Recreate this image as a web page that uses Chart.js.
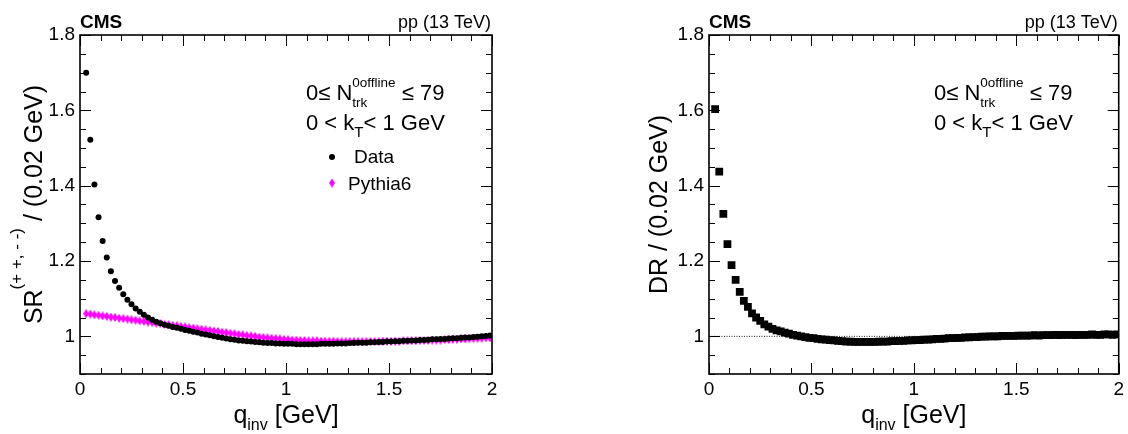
<!DOCTYPE html>
<html>
<head>
<meta charset="utf-8">
<script src="https://cdn.jsdelivr.net/npm/chart.js@4.4.1/dist/chart.umd.min.js"></script>
<style>
body { margin: 0; background: #fff; }
.pad { position: absolute; top: 0; width: 564px; height: 434px; }
</style>
</head>
<body>
<div class="pad" style="left:0"><canvas id="sr-chart" width="564" height="434"></canvas></div>
<div class="pad" style="left:564px"><canvas id="dr-chart" width="564" height="434"></canvas></div>
<script>
// bin centres, 0.02 GeV bins
var qinv = [
	0.03,0.05,0.07,0.09,0.11,0.13,0.15,0.17,0.19,0.21,
	0.23,0.25,0.27,0.29,0.31,0.33,0.35,0.37,0.39,0.41,
	0.43,0.45,0.47,0.49,0.51,0.53,0.55,0.57,0.59,0.61,
	0.63,0.65,0.67,0.69,0.71,0.73,0.75,0.77,0.79,0.81,
	0.83,0.85,0.87,0.89,0.91,0.93,0.95,0.97,0.99,1.01,
	1.03,1.05,1.07,1.09,1.11,1.13,1.15,1.17,1.19,1.21,
	1.23,1.25,1.27,1.29,1.31,1.33,1.35,1.37,1.39,1.41,
	1.43,1.45,1.47,1.49,1.51,1.53,1.55,1.57,1.59,1.61,
	1.63,1.65,1.67,1.69,1.71,1.73,1.75,1.77,1.79,1.81,
	1.83,1.85,1.87,1.89,1.91,1.93,1.95,1.97,1.99
];

var srData = [
	1.700,1.522,1.403,1.316,1.253,1.209,1.173,1.147,1.129,1.112,
	1.097,1.085,1.074,1.065,1.057,1.050,1.044,1.039,1.035,1.031,
	1.028,1.025,1.023,1.020,1.017,1.015,1.012,1.010,1.007,1.005,
	1.003,1.000,0.998,0.996,0.994,0.992,0.991,0.989,0.988,0.987,
	0.986,0.985,0.984,0.983,0.982,0.982,0.981,0.981,0.980,0.980,
	0.980,0.979,0.979,0.979,0.979,0.979,0.979,0.980,0.980,0.980,
	0.980,0.981,0.981,0.981,0.982,0.982,0.983,0.983,0.983,0.984,
	0.984,0.985,0.985,0.986,0.986,0.987,0.987,0.988,0.988,0.989,
	0.989,0.990,0.990,0.991,0.992,0.992,0.993,0.993,0.994,0.995,
	0.995,0.996,0.997,0.997,0.998,0.999,1.000,1.001,1.002
];

var srPythia = [
	1.060,1.059,1.057,1.056,1.054,1.053,1.051,1.050,1.048,1.047,
	1.046,1.044,1.043,1.041,1.040,1.038,1.037,1.035,1.034,1.032,
	1.031,1.029,1.028,1.026,1.025,1.023,1.022,1.020,1.019,1.017,
	1.016,1.014,1.013,1.011,1.010,1.008,1.007,1.005,1.004,1.002,
	1.001,1.000,0.998,0.997,0.996,0.995,0.994,0.993,0.992,0.991,
	0.990,0.990,0.989,0.989,0.988,0.988,0.988,0.987,0.987,0.987,
	0.987,0.986,0.986,0.986,0.986,0.986,0.986,0.986,0.986,0.986,
	0.986,0.986,0.987,0.987,0.987,0.987,0.987,0.988,0.988,0.988,
	0.988,0.989,0.989,0.989,0.990,0.990,0.990,0.991,0.991,0.992,
	0.992,0.993,0.993,0.994,0.994,0.995,0.995,0.996,0.996
];

var drData = [
	1.603,1.437,1.325,1.245,1.189,1.150,1.118,1.094,1.078,1.061,
	1.050,1.041,1.032,1.026,1.020,1.016,1.013,1.010,1.007,1.004,
	1.002,1.000,0.998,0.996,0.995,0.993,0.992,0.991,0.990,0.989,
	0.988,0.987,0.986,0.986,0.985,0.985,0.985,0.985,0.985,0.985,
	0.986,0.986,0.986,0.987,0.987,0.988,0.988,0.989,0.989,0.990,
	0.990,0.991,0.991,0.992,0.993,0.993,0.994,0.995,0.995,0.996,
	0.996,0.997,0.997,0.998,0.998,0.999,0.999,1.000,1.000,1.000,
	1.001,1.001,1.001,1.001,1.002,1.002,1.002,1.002,1.003,1.002,
	1.003,1.003,1.003,1.004,1.003,1.004,1.004,1.004,1.003,1.004,
	1.004,1.004,1.005,1.004,1.004,1.005,1.005,1.004,1.005
];

var xTicks = [0, 0.5, 1, 1.5, 2];
var yTicks = [1, 1.2, 1.4, 1.6, 1.8];

var FONT = '"Liberation Sans", Arial, Helvetica, sans-serif';

function points(ys){
	return qinv.map(function(q, i){ return {x: q, y: ys[i]}; });
}

// thin magenta diamond like the ROOT marker
var diamond = document.createElement('canvas');
diamond.width = 6; diamond.height = 9;
(function(){
	var c = diamond.getContext('2d');
	c.fillStyle = '#ff00ff';
	c.beginPath();
	c.moveTo(3, 0); c.lineTo(6, 4.5); c.lineTo(3, 9); c.lineTo(0, 4.5);
	c.closePath(); c.fill();
})();

function partWidth(ctx, p){
	ctx.font = (p.bold ? 'bold ' : '') + p.size + 'px ' + FONT;
	if (p.sup !== undefined) {
		return Math.max(ctx.measureText(p.sup).width, ctx.measureText(p.sub).width);
	}
	return ctx.measureText(p.t).width;
}

function drawRich(ctx, x, y, parts, align){
	ctx.save();
	ctx.fillStyle = '#000';
	ctx.textAlign = 'left';
	ctx.textBaseline = 'alphabetic';
	var w = 0;
	parts.forEach(function(p){ w += partWidth(ctx, p); });
	if (align === 'center') x -= w / 2;
	else if (align === 'right') x -= w;
	parts.forEach(function(p){
		var pw = partWidth(ctx, p);
		if (p.sup !== undefined) {
			ctx.fillText(p.sup, x, y - p.up);
			ctx.fillText(p.sub, x, y + p.down);
		} else {
			ctx.fillText(p.t, x, y + (p.dy || 0));
		}
		x += pw;
	});
	ctx.restore();
}

function drawFrame(chart){
	var ctx = chart.ctx, a = chart.chartArea;
	var xs = chart.scales.x, ys = chart.scales.y;
	ctx.save();
	ctx.strokeStyle = '#000';
	ctx.lineWidth = 1;
	ctx.beginPath();
	for (var i = 0; i <= 20; i++) {
		var px = Math.round(xs.getPixelForValue(i / 10)) + 0.5;
		var len = (i % 5 === 0) ? 11 : 6;
		ctx.moveTo(px, a.bottom); ctx.lineTo(px, a.bottom - len);
		ctx.moveTo(px, a.top); ctx.lineTo(px, a.top + len);
	}
	for (var k = 0; k <= 18; k++) {
		var py = Math.round(ys.getPixelForValue(0.9 + k * 0.05)) + 0.5;
		var l2 = ((k - 2) % 4 === 0) ? 11 : 6;
		ctx.moveTo(a.left, py); ctx.lineTo(a.left + l2, py);
		ctx.moveTo(a.right, py); ctx.lineTo(a.right - l2, py);
	}
	ctx.stroke();
	ctx.lineWidth = 1.6;
	ctx.strokeRect(a.left, a.top, a.right - a.left, a.bottom - a.top);
	ctx.restore();
}

function header(ctx, a){
	drawRich(ctx, a.left, 28, [{t: 'CMS', size: 19, bold: true}], 'left');
	drawRich(ctx, a.right - 1, 28, [{t: 'pp (13 TeV)', size: 18}], 'right');
}

function cuts(ctx, x){
	drawRich(ctx, x, 100, [
		{t: '0\u2264 N', size: 22},
		{sup: '0offline', sub: 'trk', size: 13.5, up: 13, down: 6.5},
		{t: ' \u2264 79', size: 22}
	]);
	drawRich(ctx, x, 130, [
		{t: '0 < k', size: 22},
		{t: 'T', size: 15, dy: 7},
		{t: '< 1 GeV', size: 22}
	]);
}

function xTitle(ctx, a){
	drawRich(ctx, (a.left + a.right) / 2, 423, [
		{t: 'q', size: 25},
		{t: 'inv', size: 16, dy: 7},
		{t: ' [GeV]', size: 25}
	], 'center');
}

function yTitle(ctx, x, y, parts){
	ctx.save();
	ctx.translate(x, y);
	ctx.rotate(-Math.PI / 2);
	drawRich(ctx, 0, 0, parts, 'center');
	ctx.restore();
}

function scaleOptions(leftWidth){
	return {
		x: {
			type: 'linear', min: 0, max: 2,
			grid: {display: false, drawTicks: false},
			border: {display: false},
			afterBuildTicks: function(s){ s.ticks = xTicks.map(function(v){ return {value: v}; }); },
			afterFit: function(s){ s.height = 60; },
			ticks: {
				color: '#000', padding: 4, maxRotation: 0,
				font: {family: FONT, size: 19},
				callback: function(v){ return String(v); }
			}
		},
		y: {
			type: 'linear', min: 0.9, max: 1.8,
			grid: {display: false, drawTicks: false},
			border: {display: false},
			afterBuildTicks: function(s){ s.ticks = yTicks.map(function(v){ return {value: v}; }); },
			afterFit: function(s){ s.width = leftWidth; },
			ticks: {
				color: '#000', padding: 5,
				font: {family: FONT, size: 19},
				callback: function(v){ return v === 1 ? '1' : v.toFixed(1); }
			}
		}
	};
}

new Chart(document.getElementById('sr-chart'), {
	type: 'scatter',
	data: {
		datasets: [
			{
				label: 'Data',
				data: points(srData),
				pointStyle: 'circle', pointRadius: 3, pointBorderWidth: 0,
				backgroundColor: '#000', borderColor: '#000'
			},
			{
				label: 'Pythia6',
				data: points(srPythia),
				pointStyle: diamond, pointRadius: 4, pointBorderWidth: 0,
				backgroundColor: '#ff00ff', borderColor: '#ff00ff'
			}
		]
	},
	options: {
		responsive: false,
		animation: false,
		layout: {padding: {top: 35, right: 72, left: 0, bottom: 0}},
		plugins: {legend: {display: false}, tooltip: {enabled: false}},
		scales: scaleOptions(80)
	},
	plugins: [{
		id: 'srDeco',
		afterDatasetsDraw: function(chart){ drawFrame(chart); },
		afterDraw: function(chart){
			var ctx = chart.ctx, a = chart.chartArea;
			header(ctx, a);
			cuts(ctx, 306);
			// legend
			ctx.save();
			ctx.fillStyle = '#000';
			ctx.beginPath(); ctx.arc(332, 157, 3, 0, Math.PI * 2); ctx.fill();
			ctx.drawImage(diamond, 332 - 3, 183 - 4.5);
			ctx.restore();
			drawRich(ctx, 354, 163, [{t: 'Data', size: 19}]);
			drawRich(ctx, 348, 190, [{t: 'Pythia6', size: 19}]);
			xTitle(ctx, a);
			yTitle(ctx, 42, (a.top + a.bottom) / 2, [
				{t: 'SR', size: 25},
				{t: '(+ +, - -)', size: 17, dy: -20},
				{t: ' / (0.02 GeV)', size: 25}
			]);
		}
	}]
});

new Chart(document.getElementById('dr-chart'), {
	type: 'scatter',
	data: {
		datasets: [
			{
				label: 'DR',
				data: points(drData),
				pointStyle: 'rect', pointRadius: 5.5, pointBorderWidth: 0,
				backgroundColor: '#000', borderColor: '#000'
			},
			{
				type: 'line',
				label: 'unity',
				data: [{x: 0, y: 1}, {x: 2, y: 1}],
				borderColor: '#222', borderWidth: 1, borderDash: [1, 1.5],
				pointRadius: 0, fill: false
			}
		]
	},
	options: {
		responsive: false,
		animation: false,
		layout: {padding: {top: 35, right: 7, left: 0, bottom: 0}},
		plugins: {legend: {display: false}, tooltip: {enabled: false}},
		scales: scaleOptions(145)
	},
	plugins: [{
		id: 'drDeco',
		afterDatasetsDraw: function(chart){ drawFrame(chart); },
		afterDraw: function(chart){
			var ctx = chart.ctx, a = chart.chartArea;
			header(ctx, a);
			cuts(ctx, 370);
			xTitle(ctx, a);
			yTitle(ctx, 103, (a.top + a.bottom) / 2, [
				{t: 'DR / (0.02 GeV)', size: 25}
			]);
		}
	}]
});
</script>
</body>
</html>
